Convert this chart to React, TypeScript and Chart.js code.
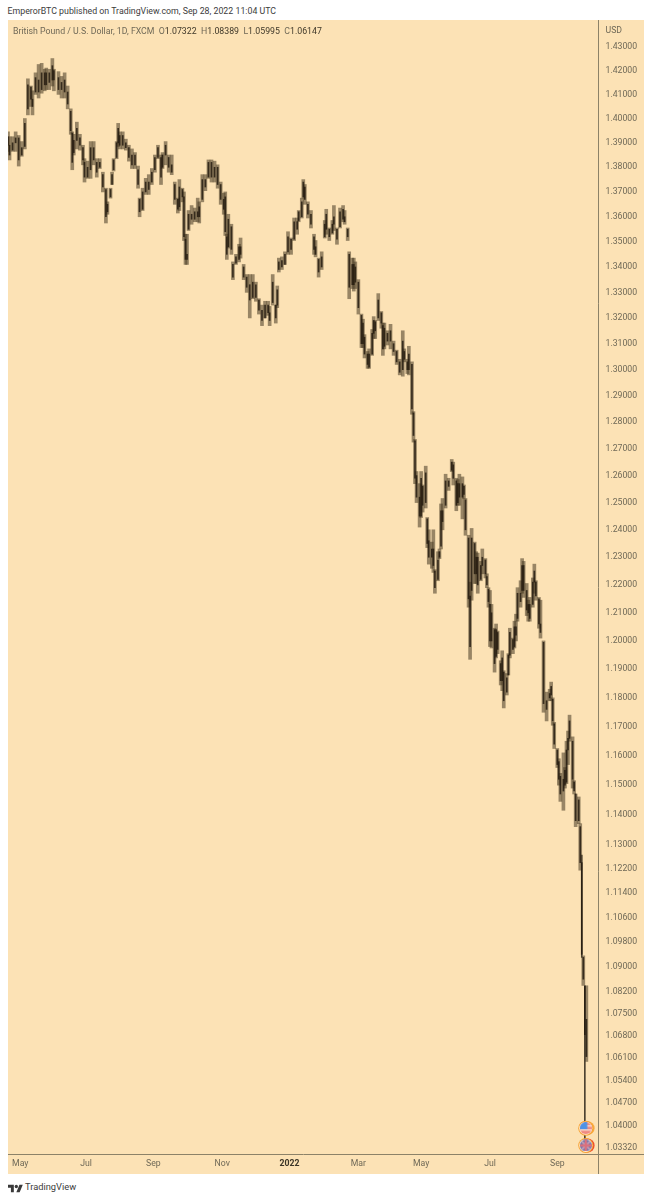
import React, { useEffect, useRef } from "react";
import { Chart, registerables } from "chart.js";

Chart.register(...registerables);

const sessions = [
  0,1,3,5,7,9,11,13,15,16,
  18,20,22,24,25,27,29,30,33,35,
  37,39,41,42,43,45,47,49,50,52,
  54,56,58,60,62,64,65,67,68,69,
  71,72,73,75,77,79,81,83,85,86,
  88,90,92,94,96,98,100,101,103,105,
  107,109,111,112,114,115,116,117,118,120,
  122,124,125,127,129,131,133,135,137,139,
  141,142,143,144,146,147,149,151,152,154,
  156,158,160,162,164,166,168,170,171,173,
  175,176,177,179,181,183,185,187,189,190,
  192,193,194,196,198,200,201,203,205,207,
  208,210,212,213,215,217,219,220,222,223,
  225,226,227,229,231,232,233,235,236,238,
  239,240,242,244,245,246,248,250,252,254,
  256,258,259,261,262,264,265,266,267,269,
  270,271,273,274,275,277,278,279,281,282,
  283,284,286,288,290,291,293,294,295,297,
  298,299,301,302,303,305,306,307,309,310,
  312,313,314,315,316,318,319,320,322,323,
  324,326,327,328,330,331,332,333,335,336,
  337,339,340,341,343,344,345,347,348,350,
  352,354,355,356,357,359,360,361,363,364,
  365,366,367,369,370,371,373,374,375,376,
  377,378,
];

const highs = [
  1.3945,1.3925,1.3925,1.3945,1.393,1.3905,1.4,1.4165,1.4135,1.4115,
  1.419,1.4225,1.423,1.4205,1.421,1.4205,1.425,1.4205,1.4195,1.4175,
  1.419,1.4135,1.404,1.3945,1.3935,1.3985,1.3935,1.389,1.3835,1.3825,
  1.3905,1.3905,1.3835,1.3835,1.378,1.3715,1.366,1.3715,1.378,1.3835,
  1.3905,1.398,1.3945,1.3945,1.3915,1.389,1.3875,1.386,1.3805,1.3675,
  1.3715,1.3755,1.377,1.3795,1.385,1.389,1.385,1.386,1.3905,1.385,
  1.385,1.374,1.3675,1.375,1.3715,1.37,1.353,1.353,1.3625,1.3645,
  1.3635,1.3675,1.366,1.377,1.377,1.383,1.383,1.3825,1.381,1.374,
  1.3695,1.37,1.353,1.361,1.357,1.342,1.345,1.349,1.3515,1.341,
  1.337,1.337,1.337,1.334,1.3275,1.325,1.3265,1.3265,1.3245,1.337,
  1.325,1.3325,1.3435,1.344,1.346,1.354,1.3515,1.3595,1.3595,1.3625,
  1.3675,1.375,1.373,1.366,1.3625,1.353,1.3505,1.3435,1.346,1.3585,
  1.363,1.3555,1.3585,1.3645,1.3555,1.3635,1.3645,1.3625,1.3555,1.346,
  1.3435,1.3435,1.342,1.335,1.3215,1.3195,1.3135,1.307,1.308,1.3155,
  1.3205,1.319,1.3295,1.3225,1.318,1.318,1.315,1.3175,1.311,1.3075,
  1.304,1.315,1.308,1.304,1.309,1.303,1.284,1.2735,1.2615,1.257,
  1.2615,1.2565,1.2635,1.2445,1.24,1.2355,1.24,1.2255,1.232,1.233,
  1.2495,1.2515,1.2605,1.259,1.266,1.265,1.259,1.2585,1.2605,1.2595,
  1.2565,1.2515,1.238,1.221,1.2405,1.2355,1.232,1.2315,1.2285,1.233,
  1.2295,1.224,1.219,1.218,1.213,1.2045,1.206,1.2035,1.193,1.1965,
  1.1895,1.1885,1.1955,1.2045,1.201,1.207,1.2095,1.219,1.2215,1.2295,
  1.2285,1.2205,1.2145,1.2155,1.2225,1.2275,1.2215,1.2155,1.2145,1.2,
  1.182,1.183,1.1855,1.18,1.1715,1.1625,1.159,1.154,1.161,1.156,
  1.165,1.1685,1.174,1.1665,1.1515,1.147,1.146,1.137,1.1265,1.0935,
  1.0839,1.08389,
];

const lows = [
  1.3865,1.383,1.3865,1.3865,1.3805,1.3845,1.3875,1.4015,1.405,1.4015,
  1.41,1.4085,1.4105,1.4115,1.412,1.412,1.4135,1.4115,1.41,1.4085,
  1.4085,1.404,1.3935,1.379,1.385,1.3875,1.387,1.381,1.374,1.3755,
  1.3755,1.381,1.376,1.3795,1.37,1.3575,1.361,1.3675,1.373,1.3785,
  1.3835,1.3885,1.3875,1.3875,1.387,1.3825,1.3795,1.3795,1.3715,1.36,
  1.3625,1.369,1.369,1.373,1.378,1.3835,1.373,1.3795,1.381,1.378,
  1.377,1.365,1.3615,1.3625,1.366,1.3505,1.341,1.341,1.3545,1.357,
  1.358,1.358,1.3575,1.366,1.3705,1.3755,1.374,1.374,1.3715,1.365,
  1.361,1.3525,1.343,1.3475,1.345,1.335,1.341,1.342,1.3435,1.335,
  1.33,1.32,1.3275,1.3265,1.3215,1.317,1.32,1.321,1.317,1.325,
  1.318,1.324,1.338,1.339,1.341,1.345,1.345,1.3505,1.353,1.358,
  1.3595,1.3675,1.365,1.3595,1.3555,1.345,1.344,1.336,1.339,1.3515,
  1.353,1.3505,1.353,1.3545,1.349,1.3555,1.358,1.357,1.3505,1.3275,
  1.3315,1.3305,1.3315,1.3215,1.3085,1.3085,1.3045,1.3005,1.3005,1.3055,
  1.312,1.312,1.319,1.316,1.3055,1.308,1.3095,1.308,1.3055,1.302,
  1.298,1.2975,1.303,1.2985,1.298,1.283,1.2725,1.257,1.25,1.241,
  1.2445,1.2465,1.248,1.2335,1.2275,1.226,1.2245,1.217,1.2215,1.2295,
  1.233,1.24,1.248,1.2545,1.2615,1.2565,1.247,1.249,1.249,1.244,
  1.2515,1.238,1.212,1.1935,1.2145,1.2205,1.2205,1.217,1.2215,1.224,
  1.2225,1.219,1.212,1.198,1.1975,1.189,1.194,1.1955,1.1845,1.1825,
  1.1765,1.181,1.188,1.194,1.1955,1.1975,1.2,1.207,1.212,1.217,
  1.2155,1.209,1.207,1.207,1.212,1.217,1.2145,1.2045,1.201,1.175,
  1.172,1.179,1.179,1.1705,1.1625,1.156,1.15,1.1445,1.1415,1.149,
  1.1505,1.157,1.165,1.149,1.147,1.136,1.137,1.1215,1.093,1.084,
  1.0348,1.05995,
];

const opens = [
  1.3925,1.389,1.387,1.39,1.392,1.385,1.3885,1.404,1.413,1.408,
  1.411,1.416,1.412,1.419,1.414,1.419,1.416,1.42,1.417,1.412,
  1.416,1.411,1.403,1.394,1.386,1.391,1.392,1.388,1.382,1.376,
  1.379,1.388,1.382,1.38,1.377,1.371,1.362,1.368,1.373,1.379,
  1.384,1.39,1.393,1.389,1.39,1.388,1.385,1.381,1.379,1.367,
  1.363,1.37,1.374,1.374,1.379,1.384,1.384,1.38,1.385,1.384,
  1.381,1.373,1.367,1.364,1.371,1.368,1.351,1.343,1.355,1.361,
  1.359,1.362,1.36,1.367,1.375,1.376,1.382,1.376,1.38,1.373,
  1.367,1.368,1.352,1.348,1.356,1.341,1.3415,1.343,1.348,1.34,
  1.336,1.333,1.328,1.333,1.327,1.323,1.32,1.325,1.322,1.326,
  1.325,1.325,1.339,1.3425,1.341,1.346,1.351,1.351,1.358,1.3585,
  1.36,1.368,1.372,1.365,1.361,1.352,1.348,1.343,1.34,1.352,
  1.355,1.355,1.3535,1.357,1.355,1.356,1.363,1.36,1.355,1.345,
  1.333,1.341,1.334,1.334,1.321,1.31,1.3125,1.306,1.301,1.306,
  1.314,1.3185,1.32,1.322,1.317,1.309,1.314,1.311,1.31,1.307,
  1.303,1.3,1.307,1.303,1.3,1.302,1.2835,1.273,1.26,1.252,
  1.245,1.256,1.25,1.244,1.236,1.23,1.233,1.225,1.222,1.23,
  1.234,1.247,1.249,1.258,1.262,1.264,1.258,1.25,1.257,1.252,
  1.256,1.251,1.237,1.216,1.218,1.235,1.224,1.23,1.222,1.227,
  1.229,1.223,1.2185,1.213,1.2,1.204,1.1945,1.203,1.192,1.186,
  1.189,1.182,1.188,1.195,1.2005,1.198,1.205,1.208,1.217,1.218,
  1.227,1.218,1.21,1.213,1.213,1.221,1.221,1.215,1.206,1.1995,
  1.179,1.18,1.181,1.1795,1.171,1.162,1.158,1.153,1.148,1.155,
  1.151,1.162,1.166,1.165,1.151,1.147,1.138,1.136,1.124,1.093,
  1.0838,1.07322,
];

const closes = [
  1.389,1.385,1.39,1.392,1.383,1.388,1.398,1.414,1.408,1.405,
  1.417,1.411,1.419,1.414,1.419,1.415,1.422,1.416,1.412,1.415,
  1.411,1.406,1.395,1.382,1.391,1.396,1.389,1.383,1.376,1.38,
  1.388,1.383,1.378,1.382,1.372,1.36,1.365,1.371,1.377,1.383,
  1.39,1.396,1.389,1.393,1.388,1.384,1.381,1.385,1.373,1.362,
  1.37,1.374,1.371,1.378,1.384,1.388,1.376,1.385,1.389,1.38,
  1.378,1.367,1.363,1.372,1.368,1.352,1.343,1.345,1.361,1.359,
  1.362,1.36,1.364,1.375,1.372,1.382,1.376,1.38,1.373,1.367,
  1.363,1.354,1.345,1.359,1.347,1.336,1.344,1.348,1.345,1.336,
  1.332,1.327,1.334,1.328,1.323,1.319,1.325,1.322,1.319,1.334,
  1.32,1.331,1.342,1.34,1.345,1.352,1.347,1.358,1.355,1.362,
  1.366,1.374,1.367,1.361,1.357,1.347,1.345,1.338,1.344,1.357,
  1.361,1.352,1.357,1.36,1.351,1.362,1.359,1.358,1.352,1.332,
  1.341,1.333,1.34,1.324,1.31,1.318,1.306,1.302,1.306,1.314,
  1.319,1.315,1.327,1.318,1.308,1.316,1.311,1.315,1.307,1.303,
  1.299,1.311,1.304,1.3,1.306,1.285,1.275,1.259,1.252,1.245,
  1.259,1.249,1.261,1.235,1.23,1.233,1.227,1.219,1.229,1.232,
  1.247,1.243,1.258,1.256,1.265,1.259,1.249,1.257,1.252,1.257,
  1.253,1.24,1.215,1.198,1.237,1.224,1.23,1.22,1.227,1.23,
  1.224,1.22,1.214,1.2,1.21,1.192,1.204,1.197,1.186,1.194,
  1.179,1.187,1.195,1.203,1.197,1.205,1.202,1.217,1.214,1.227,
  1.218,1.211,1.213,1.208,1.221,1.225,1.216,1.206,1.203,1.178,
  1.176,1.1815,1.184,1.172,1.164,1.157,1.152,1.147,1.152,1.15,
  1.162,1.166,1.172,1.152,1.148,1.138,1.145,1.124,1.094,1.086,
  1.0684,1.06147,
];

const narrowWickSessions = [375, 377];

const priceTicks = [
  1.43,1.42,1.41,1.4,1.39,1.38,1.37,1.36,1.35,1.34,1.33,1.32,1.31,1.3,1.29,1.28,1.27,1.26,1.25,1.24,
  1.23,1.22,1.21,1.2,1.19,1.18,1.17,1.16,1.15,1.14,1.13,1.122,1.114,1.106,1.098,1.09,1.082,1.075,
  1.068,1.061,1.054,1.047,1.04,1.0332,
];
const timeTickSessions = [8, 51, 95, 140, 184, 229, 270, 315, 359];
const timeTickLabels = ["May", "Jul", "Sep", "Nov", "2022", "Mar", "May", "Jul", "Sep"];
const yearTickLabel = "2022";

const flagSession = [377.6];
const flagHaloSession = [378.8];
const usFlagPrice = [1.0393];
const ukFlagPrice = [1.034];

const INK = "#6f6957";
const LINE = "#8c8268";
const BG = "#fce2b5";

function makeFlag(kind: "us" | "uk") {
  const c = document.createElement("canvas");
  c.width = 12;
  c.height = 12;
  const g = c.getContext("2d")!;
  g.beginPath();
  g.arc(6, 6, 6, 0, Math.PI * 2);
  g.clip();
  if (kind === "us") {
    g.fillStyle = "#f08a80";
    g.fillRect(0, 0, 12, 12);
    g.fillStyle = "#f7d8cc";
    g.fillRect(0, 3, 12, 1.5);
    g.fillRect(0, 7, 12, 1.5);
    g.fillStyle = "#4f93e6";
    g.fillRect(0, 0, 7.5, 7);
  } else {
    g.fillStyle = "#6d78b0";
    g.fillRect(0, 0, 12, 12);
    g.strokeStyle = "#c9a3b8";
    g.lineWidth = 1.6;
    g.beginPath();
    g.moveTo(0, 0);
    g.lineTo(12, 12);
    g.moveTo(12, 0);
    g.lineTo(0, 12);
    g.stroke();
    g.strokeStyle = "#d9707e";
    g.lineWidth = 2.4;
    g.beginPath();
    g.moveTo(6, 0);
    g.lineTo(6, 12);
    g.moveTo(0, 6);
    g.lineTo(12, 6);
    g.stroke();
  }
  return c;
}

const ext = {
  id: "axisExtensions",
  afterDraw(chart: any) {
    const { ctx, chartArea, width, height } = chart;
    ctx.save();
    ctx.strokeStyle = LINE;
    ctx.lineWidth = 1;
    ctx.beginPath();
    ctx.moveTo(chartArea.right, chartArea.bottom + 0.5);
    ctx.lineTo(width, chartArea.bottom + 0.5);
    ctx.moveTo(chartArea.right + 0.5, chartArea.bottom);
    ctx.lineTo(chartArea.right + 0.5, height);
    ctx.stroke();
    ctx.restore();
  },
};

const isYearTick = (c: any) =>
  !!c.tick && timeTickSessions.indexOf(c.tick.value) === timeTickLabels.indexOf(yearTickLabel);

export default function App() {
  const ref = useRef<HTMLCanvasElement>(null);
  useEffect(() => {
    const point = (xs: number[], ys: number[]) => xs.map((x, i) => ({ x, y: ys[i] }));
    const disc = (xs: number[], ys: number[], color: any, r: number, order: number, style?: any) => ({
      type: "scatter",
      data: point(xs, ys),
      pointRadius: r,
      pointHoverRadius: r,
      backgroundColor: color,
      borderWidth: 0,
      pointStyle: style || "circle",
      order,
      clip: false,
    });
    const isNarrow = (x: number) => narrowWickSessions.indexOf(x) >= 0;
    const wick = (x: number, i: number) => ({ x, y: [lows[i], highs[i]] });
    const chart = new Chart(ref.current!, {
      type: "bar",
      plugins: [ext],
      data: {
        datasets: [
          disc(flagSession, usFlagPrice, "#4f93e6", 6, 0, makeFlag("us")),
          disc(flagSession, ukFlagPrice, "#6d78b0", 6, 0, makeFlag("uk")),
          disc(flagSession, usFlagPrice, "#fdf0d8", 6.5, 1),
          disc(flagSession, ukFlagPrice, "#fdf0d8", 6.5, 1),
          disc(flagSession, usFlagPrice, "#f7a233", 7.5, 2),
          disc(flagSession, ukFlagPrice, "#f7a233", 7.5, 2),
          disc(flagHaloSession, usFlagPrice, "#f9a93e", 7, 3),
          disc(flagHaloSession, ukFlagPrice, "#ee4a2e", 7, 3),
          {
            type: "bar",
            data: sessions.map((x, i) => ({ x, y: [opens[i], closes[i]] })),
            backgroundColor: "rgba(34,25,13,0.82)",
            barThickness: 1,
            grouped: false,
            order: 4,
          },
          {
            type: "bar",
            data: sessions.map(wick).filter((b) => isNarrow(b.x)),
            backgroundColor: "#4d4230",
            barThickness: 1,
            grouped: false,
            order: 5,
          },
          {
            type: "bar",
            data: sessions.map(wick).filter((b) => !isNarrow(b.x)),
            backgroundColor: "rgba(70,56,34,0.55)",
            barThickness: 3,
            grouped: false,
            order: 5,
          },
        ] as any,
      },
      options: {
        responsive: false,
        animation: false,
        devicePixelRatio: 1,
        layout: { padding: 0, autoPadding: false },
        plugins: { legend: { display: false }, tooltip: { enabled: false }, title: { display: false } },
        scales: {
          x: {
            type: "linear",
            offset: false,
            min: 0,
            max: 385.6,
            grid: { display: false, offset: false, drawTicks: false },
            border: { display: true, color: LINE, width: 1 },
            afterBuildTicks(scale: any) {
              scale.ticks = timeTickSessions.map((value) => ({ value }));
            },
            afterFit(scale: any) {
              scale.height = 20;
              scale.paddingLeft = 0;
              scale.paddingRight = 0;
            },
            ticks: {
              autoSkip: false,
              maxRotation: 0,
              padding: 5,
              color: (c: any) => (isYearTick(c) ? "#3b3527" : INK),
              font: (c: any) => ({
                family: "Roboto",
                size: 8.7,
                weight: isYearTick(c) ? "bold" : "normal",
              }),
              callback: (v: any) => timeTickLabels[timeTickSessions.indexOf(Number(v))],
            },
          },
          y: {
            type: "logarithmic",
            position: "right",
            min: 1.0314,
            max: 1.4413,
            grid: { display: false, drawTicks: false },
            border: { display: true, color: LINE, width: 1 },
            afterBuildTicks(scale: any) {
              scale.ticks = priceTicks.map((value) => ({ value }));
            },
            afterFit(scale: any) {
              scale.width = 46;
              scale.paddingTop = 0;
              scale.paddingBottom = 0;
            },
            ticks: {
              autoSkip: false,
              padding: 7.5,
              color: INK,
              font: { family: "Roboto", size: 8.7 },
              callback: (v: any) => Number(v).toFixed(5),
            },
          },
        },
      } as any,
    });
    return () => chart.destroy();
  }, []);

  const text: React.CSSProperties = { position: "absolute", fontFamily: "Roboto", whiteSpace: "pre", lineHeight: "12px" };
  const val: React.CSSProperties = { color: "#3f3829" };
  return (
    <div style={{ position: "absolute", left: 0, top: 0, width: 652, height: 1200, overflow: "hidden", background: "#fff" }}>
      <div style={{ ...text, left: 7.5, top: 5, fontSize: 8.8, color: "#3c3c3c" }}>
        EmperorBTC published on TradingView.com, Sep 28, 2022 11:04 UTC
      </div>
      <canvas
        ref={ref}
        width={636}
        height={1154}
        style={{ position: "absolute", left: 8, top: 20, width: 636, height: 1154, background: BG, filter: "blur(0.35px)" }}
      />
      <div style={{ ...text, left: 13, top: 25, fontSize: 8.76, color: INK }}>
        {"British Pound / U.S. Dollar, 1D, FXCM  O"}
        <span style={val}>1.07322</span>
        {"  H"}
        <span style={val}>1.08389</span>
        {"  L"}
        <span style={val}>1.05995</span>
        {"  C"}
        <span style={val}>1.06147</span>
      </div>
      <div style={{ ...text, left: 605.5, top: 23.5, fontSize: 8.7, color: INK }}>USD</div>
      <svg style={{ position: "absolute", left: 8, top: 1183 }} width="15" height="12" viewBox="0 0 36 28">
        <path fill="#3a3a3a" d="M14 22H7V11H0V4h14v18zM28 22h-8l7.5-18h8L28 22z" />
        <circle fill="#3a3a3a" cx="20" cy="8" r="4" />
      </svg>
      <div style={{ ...text, left: 25, top: 1181, fontSize: 9.3, color: "#3c3c3c" }}>TradingView</div>
    </div>
  );
}
